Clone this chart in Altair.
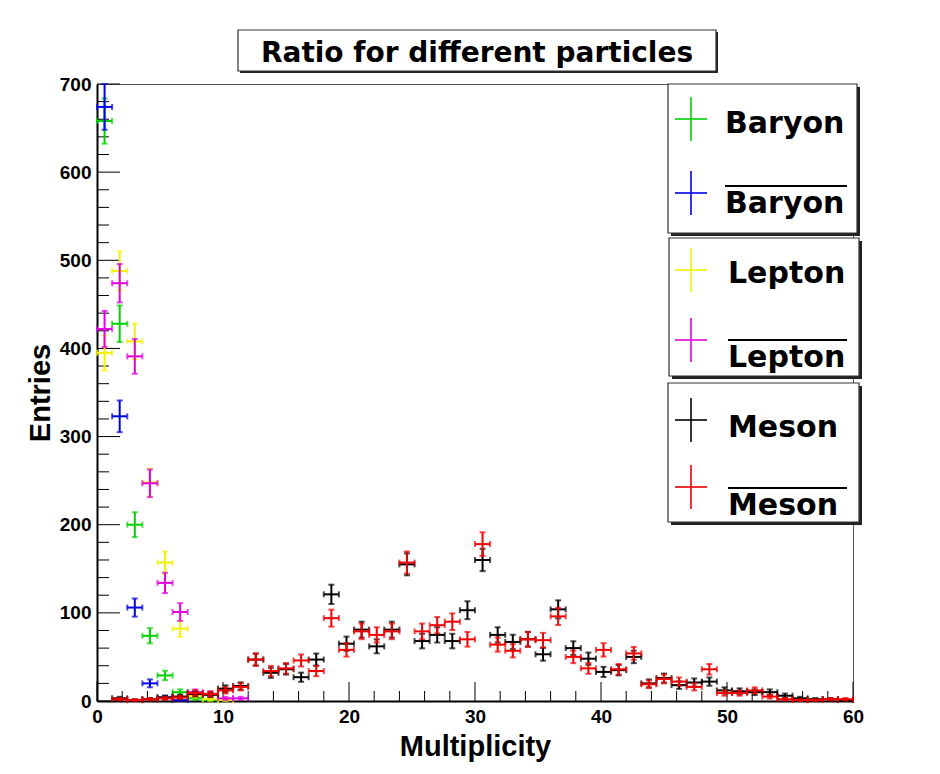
import altair as alt
import pandas as pd
import numpy as np

# ---------------- data ----------------
BIN_W = 1.2
centers = [round(0.6 + BIN_W * i, 1) for i in range(50)]

baryon      = [658, 428, 200, 74, 29, 10, 3, 1]
anti_baryon = [674, 323, 106, 20, 4, 1]
lepton      = [395, 488, 408, 248, 157, 82, 6, 2, 1]
anti_lepton = [422, 474, 391, 247, 134, 101, 10, 8, 3, 3]
meson = [0, 3, 1, 2, 4, 5, 8, 7, 14, 17,
         47, 32, 36, 27, 47, 121, 65, 81, 62, 81,
         155, 68, 75, 68, 103, 160, 75, 67, 70, 53,
         104, 60, 48, 33, 35, 50, 20, 26, 18, 21,
         22, 12, 11, 10, 10, 6, 3, 2, 2, 1]
anti_meson = [0, 2, 1, 2, 3, 4, 9, 8, 12, 16,
              47, 34, 37, 46, 34, 94, 58, 79, 75, 79,
              157, 79, 86, 90, 70, 178, 64, 57, 70, 69,
              96, 50, 37, 58, 36, 54, 19, 25, 22, 16,
              36, 9, 9, 12, 5, 2, 1, 1, 2, 2]

series_names = ["Baryon", "anti-Baryon", "Lepton", "anti-Lepton", "Meson", "anti-Meson"]
series_values = [baryon, anti_baryon, lepton, anti_lepton, meson, anti_meson]
series_colors = ["#00d000", "#0000e6", "#f2f200", "#e000e0", "#000000", "#f00000"]

legend_labels = ["Baryon", "Baryon", "Lepton", "Lepton", "Meson", "Meson"]
legend_overline = [False, True, False, True, False, True]

x_major = [0, 10, 20, 30, 40, 50, 60]
x_minor = [v for v in range(0, 61, 2) if v % 10 != 0]
y_major = [0, 100, 200, 300, 400, 500, 600, 700]
y_minor = [v for v in range(0, 701, 20) if v % 100 != 0]

W, H = 756, 617

xscale = alt.Scale(domain=[0, 60], nice=False, zero=False)
yscale = alt.Scale(domain=[0, 700], nice=False)

AX_FONT = "Liberation Sans"
TX_FONT = "DejaVu Sans"

xaxis = alt.Axis(values=x_major, title="Multiplicity", ticks=False, tickSize=0,
                 grid=False, labelFont=AX_FONT, labelFontSize=19, labelFontWeight="bold",
                 labelColor="black", labelPadding=6, labelFlush=False,
                 domainColor="black", domainWidth=2,
                 titleFont=AX_FONT, titleFontSize=29, titleFontWeight="bold",
                 titleColor="black", titlePadding=6, format="d")
yaxis = alt.Axis(values=y_major, title="Entries", ticks=False, tickSize=0,
                 grid=False, labelFont=AX_FONT, labelFontSize=19, labelFontWeight="bold",
                 labelColor="black", labelPadding=6, labelFlush=False,
                 domainColor="black", domainWidth=2,
                 titleFont=AX_FONT, titleFontSize=29, titleFontWeight="bold",
                 titleColor="black", titlePadding=4, format="d")


def X(field):
    return alt.X(field, type="quantitative", scale=xscale, axis=xaxis)


def Y(field):
    return alt.Y(field, type="quantitative", scale=yscale, axis=yaxis)


def make_df(vals):
    rows = []
    for c, v in zip(centers, vals):
        if v <= 0:
            continue
        e = float(np.sqrt(v))
        rows.append(dict(x=c, y=v, lo=v - e, hi=v + e,
                         xlo=c - BIN_W / 2, xhi=c + BIN_W / 2))
    return pd.DataFrame(rows)


layers = []

# ---------- inward ticks ----------
xt_major = alt.Chart(pd.DataFrame({"t": x_major})).mark_rule(color="black", strokeWidth=1).encode(
    x=X("t"), y=alt.value(H), y2=alt.value(H - 19))
xt_minor = alt.Chart(pd.DataFrame({"t": x_minor})).mark_rule(color="black", strokeWidth=1).encode(
    x=X("t"), y=alt.value(H), y2=alt.value(H - 10))
yt_major = alt.Chart(pd.DataFrame({"t": y_major})).mark_rule(color="black", strokeWidth=1).encode(
    y=Y("t"), x=alt.value(0), x2=alt.value(23))
yt_minor = alt.Chart(pd.DataFrame({"t": y_minor})).mark_rule(color="black", strokeWidth=1).encode(
    y=Y("t"), x=alt.value(0), x2=alt.value(12))
layers += [xt_major, xt_minor, yt_major, yt_minor]

# ---------- error-bar data ----------
for name, vals, col in zip(series_names, series_values, series_colors):
    df = make_df(vals)
    base = alt.Chart(df)
    vert = base.mark_rule(color=col, strokeWidth=2).encode(
        x=X("x"), y=Y("lo"), y2="hi:Q")
    horiz = base.mark_rule(color=col, strokeWidth=2).encode(
        x=X("xlo"), x2="xhi:Q", y=Y("y"))
    cap_lo = base.mark_tick(color=col, orient="horizontal", size=6, thickness=2).encode(
        x=X("x"), y=Y("lo"))
    cap_hi = base.mark_tick(color=col, orient="horizontal", size=6, thickness=2).encode(
        x=X("x"), y=Y("hi"))
    cap_l = base.mark_tick(color=col, orient="vertical", size=6, thickness=2).encode(
        x=X("xlo"), y=Y("y"))
    cap_r = base.mark_tick(color=col, orient="vertical", size=6, thickness=2).encode(
        x=X("xhi"), y=Y("y"))
    layers += [horiz, vert, cap_lo, cap_hi, cap_l, cap_r]

one = pd.DataFrame({"a": [0]})


def box(x1, y1, x2, y2, shadow=3):
    sh = alt.Chart(one).mark_rect(fill="#222222").encode(
        x=alt.value(x1 + shadow), x2=alt.value(x2 + shadow),
        y=alt.value(y1 + shadow), y2=alt.value(y2 + shadow))
    fr = alt.Chart(one).mark_rect(fill="white", stroke="#333333", strokeWidth=1.2).encode(
        x=alt.value(x1), x2=alt.value(x2), y=alt.value(y1), y2=alt.value(y2))
    return [sh, fr]


# ---------- title box ----------
layers += box(141, -54, 619, -13, shadow=2)
layers.append(alt.Chart(one).mark_text(
    text="Ratio for different particles", font=TX_FONT, fontSize=28, fontWeight="bold",
    color="black", align="center", baseline="alphabetic").encode(
    x=alt.value(380), y=alt.value(-22)))

# ---------- legend boxes ----------
boxes = [(571, 0, 760, 149), (572, 154, 762, 292), (571, 299, 762, 438)]
for b in boxes:
    layers += box(*b, shadow=3)

cross_y = [35, 109, 186, 256, 336, 403]
text_base = [49, 129, 199, 283, 353, 431]
text_x = [628, 628, 631, 631, 631, 631]
for i in range(6):
    col = series_colors[i]
    cy = cross_y[i]
    layers.append(alt.Chart(one).mark_rule(color=col, strokeWidth=1.6).encode(
        x=alt.value(594), y=alt.value(cy - 22), y2=alt.value(cy + 22)))
    layers.append(alt.Chart(one).mark_rule(color=col, strokeWidth=1.6).encode(
        x=alt.value(578), x2=alt.value(610), y=alt.value(cy)))
    layers.append(alt.Chart(one).mark_text(
        text=legend_labels[i], font=TX_FONT, fontSize=30, fontWeight="bold",
        color="black", align="left", baseline="alphabetic").encode(
        x=alt.value(text_x[i]), y=alt.value(text_base[i])))
    if legend_overline[i]:
        layers.append(alt.Chart(one).mark_rule(color="black", strokeWidth=2).encode(
            x=alt.value(text_x[i]), x2=alt.value(750),
            y=alt.value(text_base[i] - 27)))

chart = alt.layer(*layers).properties(
    width=W, height=H,
    autosize=alt.AutoSizeParams(type="none"),
    padding={"left": 97, "top": 84, "right": 87, "bottom": 73},
    background="white",
).configure_view(stroke="#555555", strokeWidth=1)

chart.save("out.html", embed_options={"renderer": "svg", "actions": False})
